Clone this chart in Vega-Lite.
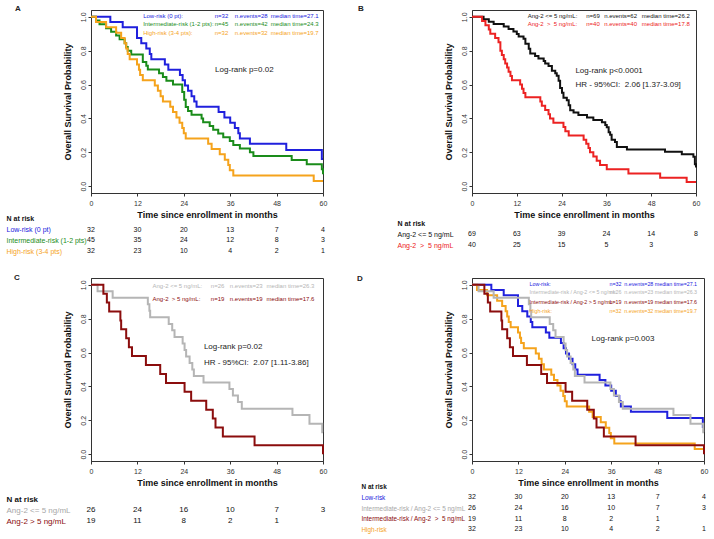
{
"$schema": "https://vega.github.io/schema/vega-lite/v6.json",
"padding": {"left": 6, "top": 4, "right": 5, "bottom": 5},
"background": "white",
"config": {"font": "Liberation Sans", "view": {"stroke": null}, "axis": {"grid": false, "labelOverlap": false, "labelBound": false}},
"resolve": {"scale": {"color": "independent"}},
"datasets": {
"curves": [
{"c":"low","t":0,"s":1},{"c":"low","t":5.0,"s":0.969},{"c":"low","t":8.2,"s":0.938},{"c":"low","t":11.9,"s":0.875},{"c":"low","t":13.0,"s":0.844},{"c":"low","t":14.3,"s":0.813},{"c":"low","t":15.2,"s":0.781},{"c":"low","t":15.6,"s":0.75},{"c":"low","t":19.1,"s":0.719},{"c":"low","t":20.0,"s":0.688},{"c":"low","t":23.0,"s":0.656},{"c":"low","t":23.7,"s":0.625},{"c":"low","t":24.3,"s":0.594},{"c":"low","t":25.1,"s":0.563},{"c":"low","t":26.0,"s":0.531},{"c":"low","t":26.7,"s":0.5},{"c":"low","t":27.3,"s":0.469},{"c":"low","t":33.0,"s":0.438},{"c":"low","t":34.5,"s":0.406},{"c":"low","t":36.0,"s":0.375},{"c":"low","t":37.2,"s":0.344},{"c":"low","t":38.1,"s":0.313},{"c":"low","t":38.5,"s":0.281},{"c":"low","t":41.1,"s":0.25},{"c":"low","t":50.5,"s":0.214},{"c":"low","t":59.7,"s":0.16},{"c":"low","t":60,"s":0.16},
{"c":"int","t":0,"s":1},{"c":"int","t":1.3,"s":0.978},{"c":"int","t":2.2,"s":0.956},{"c":"int","t":3.9,"s":0.933},{"c":"int","t":5.2,"s":0.911},{"c":"int","t":6.5,"s":0.889},{"c":"int","t":7.4,"s":0.867},{"c":"int","t":8.7,"s":0.844},{"c":"int","t":9.1,"s":0.822},{"c":"int","t":9.5,"s":0.8},{"c":"int","t":10.4,"s":0.778},{"c":"int","t":13.4,"s":0.733},{"c":"int","t":14.3,"s":0.711},{"c":"int","t":14.7,"s":0.689},{"c":"int","t":17.6,"s":0.667},{"c":"int","t":18.6,"s":0.644},{"c":"int","t":19.5,"s":0.622},{"c":"int","t":21.2,"s":0.6},{"c":"int","t":23.6,"s":0.556},{"c":"int","t":24.1,"s":0.511},{"c":"int","t":24.5,"s":0.467},{"c":"int","t":25.1,"s":0.444},{"c":"int","t":26.0,"s":0.422},{"c":"int","t":28.6,"s":0.4},{"c":"int","t":29.0,"s":0.378},{"c":"int","t":30.7,"s":0.356},{"c":"int","t":31.6,"s":0.333},{"c":"int","t":32.9,"s":0.311},{"c":"int","t":34.2,"s":0.289},{"c":"int","t":35.9,"s":0.267},{"c":"int","t":36.8,"s":0.244},{"c":"int","t":38.5,"s":0.222},{"c":"int","t":41.1,"s":0.2},{"c":"int","t":42.0,"s":0.178},{"c":"int","t":51.9,"s":0.155},{"c":"int","t":55.8,"s":0.13},{"c":"int","t":59.7,"s":0.1},{"c":"int","t":60,"s":0.07},
{"c":"high","t":0,"s":1},{"c":"high","t":1.3,"s":0.969},{"c":"high","t":3.9,"s":0.938},{"c":"high","t":6.5,"s":0.906},{"c":"high","t":7.8,"s":0.875},{"c":"high","t":8.7,"s":0.844},{"c":"high","t":9.1,"s":0.813},{"c":"high","t":9.5,"s":0.781},{"c":"high","t":10.0,"s":0.75},{"c":"high","t":11.9,"s":0.719},{"c":"high","t":12.4,"s":0.688},{"c":"high","t":12.7,"s":0.656},{"c":"high","t":13.4,"s":0.625},{"c":"high","t":16.5,"s":0.594},{"c":"high","t":17.3,"s":0.563},{"c":"high","t":18.0,"s":0.531},{"c":"high","t":18.6,"s":0.5},{"c":"high","t":20.5,"s":0.469},{"c":"high","t":21.2,"s":0.438},{"c":"high","t":22.1,"s":0.406},{"c":"high","t":22.9,"s":0.375},{"c":"high","t":23.6,"s":0.344},{"c":"high","t":24.0,"s":0.313},{"c":"high","t":24.5,"s":0.281},{"c":"high","t":30.3,"s":0.25},{"c":"high","t":31.2,"s":0.219},{"c":"high","t":33.3,"s":0.188},{"c":"high","t":34.6,"s":0.156},{"c":"high","t":35.5,"s":0.125},{"c":"high","t":35.9,"s":0.094},{"c":"high","t":36.8,"s":0.063},{"c":"high","t":57.6,"s":0.031},{"c":"high","t":60,"s":0.031},
{"c":"le5","t":0,"s":1},{"c":"le5","t":3.1,"s":0.986},{"c":"le5","t":4.5,"s":0.971},{"c":"le5","t":5.8,"s":0.957},{"c":"le5","t":8.5,"s":0.942},{"c":"le5","t":9.8,"s":0.928},{"c":"le5","t":11.1,"s":0.913},{"c":"le5","t":12.0,"s":0.899},{"c":"le5","t":12.5,"s":0.884},{"c":"le5","t":13.8,"s":0.87},{"c":"le5","t":14.3,"s":0.841},{"c":"le5","t":15.2,"s":0.812},{"c":"le5","t":15.6,"s":0.783},{"c":"le5","t":16.9,"s":0.768},{"c":"le5","t":17.8,"s":0.754},{"c":"le5","t":19.2,"s":0.739},{"c":"le5","t":19.6,"s":0.725},{"c":"le5","t":20.5,"s":0.71},{"c":"le5","t":21.4,"s":0.681},{"c":"le5","t":22.3,"s":0.667},{"c":"le5","t":22.7,"s":0.652},{"c":"le5","t":23.2,"s":0.623},{"c":"le5","t":23.6,"s":0.58},{"c":"le5","t":24.1,"s":0.551},{"c":"le5","t":24.5,"s":0.522},{"c":"le5","t":25.4,"s":0.507},{"c":"le5","t":25.9,"s":0.478},{"c":"le5","t":26.3,"s":0.449},{"c":"le5","t":27.2,"s":0.435},{"c":"le5","t":28.5,"s":0.42},{"c":"le5","t":30.8,"s":0.406},{"c":"le5","t":32.5,"s":0.391},{"c":"le5","t":34.8,"s":0.377},{"c":"le5","t":35.7,"s":0.362},{"c":"le5","t":36.1,"s":0.348},{"c":"le5","t":36.6,"s":0.319},{"c":"le5","t":37.0,"s":0.304},{"c":"le5","t":37.4,"s":0.275},{"c":"le5","t":38.3,"s":0.261},{"c":"le5","t":38.8,"s":0.232},{"c":"le5","t":41.5,"s":0.217},{"c":"le5","t":51.7,"s":0.203},{"c":"le5","t":56.2,"s":0.188},{"c":"le5","t":59.3,"s":0.174},{"c":"le5","t":59.7,"s":0.13},{"c":"le5","t":60,"s":0.11},
{"c":"gt5","t":0,"s":1},{"c":"gt5","t":2.7,"s":0.975},{"c":"gt5","t":3.6,"s":0.95},{"c":"gt5","t":4.5,"s":0.925},{"c":"gt5","t":4.9,"s":0.9},{"c":"gt5","t":6.2,"s":0.875},{"c":"gt5","t":7.1,"s":0.85},{"c":"gt5","t":7.6,"s":0.8},{"c":"gt5","t":8.0,"s":0.775},{"c":"gt5","t":8.5,"s":0.75},{"c":"gt5","t":8.9,"s":0.725},{"c":"gt5","t":9.4,"s":0.7},{"c":"gt5","t":9.8,"s":0.675},{"c":"gt5","t":10.3,"s":0.65},{"c":"gt5","t":10.7,"s":0.625},{"c":"gt5","t":12.9,"s":0.6},{"c":"gt5","t":13.4,"s":0.575},{"c":"gt5","t":13.8,"s":0.55},{"c":"gt5","t":14.3,"s":0.525},{"c":"gt5","t":18.3,"s":0.5},{"c":"gt5","t":18.7,"s":0.475},{"c":"gt5","t":19.6,"s":0.45},{"c":"gt5","t":20.5,"s":0.425},{"c":"gt5","t":20.9,"s":0.4},{"c":"gt5","t":21.8,"s":0.375},{"c":"gt5","t":24.5,"s":0.35},{"c":"gt5","t":25.0,"s":0.325},{"c":"gt5","t":25.9,"s":0.3},{"c":"gt5","t":29.9,"s":0.275},{"c":"gt5","t":30.6,"s":0.25},{"c":"gt5","t":31.2,"s":0.225},{"c":"gt5","t":31.6,"s":0.2},{"c":"gt5","t":32.5,"s":0.175},{"c":"gt5","t":33.4,"s":0.15},{"c":"gt5","t":34.3,"s":0.125},{"c":"gt5","t":36.1,"s":0.1},{"c":"gt5","t":41.9,"s":0.075},{"c":"gt5","t":50.4,"s":0.05},{"c":"gt5","t":57.5,"s":0.025},{"c":"gt5","t":60,"s":0.025},
{"c":"ile5","t":0,"s":1},{"c":"ile5","t":1.7,"s":0.962},{"c":"ile5","t":5.6,"s":0.923},{"c":"ile5","t":14.7,"s":0.885},{"c":"ile5","t":15.1,"s":0.846},{"c":"ile5","t":15.3,"s":0.808},{"c":"ile5","t":20.1,"s":0.769},{"c":"ile5","t":21.0,"s":0.731},{"c":"ile5","t":21.6,"s":0.692},{"c":"ile5","t":23.7,"s":0.654},{"c":"ile5","t":24.2,"s":0.615},{"c":"ile5","t":24.6,"s":0.577},{"c":"ile5","t":25.5,"s":0.538},{"c":"ile5","t":26.2,"s":0.5},{"c":"ile5","t":26.6,"s":0.462},{"c":"ile5","t":29.1,"s":0.423},{"c":"ile5","t":35.8,"s":0.385},{"c":"ile5","t":36.7,"s":0.346},{"c":"ile5","t":38.0,"s":0.308},{"c":"ile5","t":39.0,"s":0.269},{"c":"ile5","t":52.1,"s":0.231},{"c":"ile5","t":56.5,"s":0.18},{"c":"ile5","t":59.8,"s":0.13},{"c":"ile5","t":60,"s":0.13},
{"c":"igt5","t":0,"s":1},{"c":"igt5","t":3.2,"s":0.947},{"c":"igt5","t":4.1,"s":0.895},{"c":"igt5","t":4.7,"s":0.842},{"c":"igt5","t":7.6,"s":0.789},{"c":"igt5","t":7.8,"s":0.737},{"c":"igt5","t":9.1,"s":0.684},{"c":"igt5","t":9.8,"s":0.632},{"c":"igt5","t":10.6,"s":0.579},{"c":"igt5","t":14.2,"s":0.526},{"c":"igt5","t":17.9,"s":0.474},{"c":"igt5","t":19.4,"s":0.421},{"c":"igt5","t":24.2,"s":0.368},{"c":"igt5","t":25.9,"s":0.316},{"c":"igt5","t":29.8,"s":0.263},{"c":"igt5","t":31.5,"s":0.211},{"c":"igt5","t":32.2,"s":0.158},{"c":"igt5","t":34.1,"s":0.105},{"c":"igt5","t":42.3,"s":0.053},{"c":"igt5","t":60,"s":0.0}
],
"risk": [
{"p":"A","g":"Low-risk (0 pt)","t":0,"n":32},{"p":"A","g":"Low-risk (0 pt)","t":12,"n":30},{"p":"A","g":"Low-risk (0 pt)","t":24,"n":20},{"p":"A","g":"Low-risk (0 pt)","t":36,"n":13},{"p":"A","g":"Low-risk (0 pt)","t":48,"n":7},{"p":"A","g":"Low-risk (0 pt)","t":60,"n":4},
{"p":"A","g":"Intermediate-risk (1-2 pts)","t":0,"n":45},{"p":"A","g":"Intermediate-risk (1-2 pts)","t":12,"n":35},{"p":"A","g":"Intermediate-risk (1-2 pts)","t":24,"n":24},{"p":"A","g":"Intermediate-risk (1-2 pts)","t":36,"n":12},{"p":"A","g":"Intermediate-risk (1-2 pts)","t":48,"n":8},{"p":"A","g":"Intermediate-risk (1-2 pts)","t":60,"n":3},
{"p":"A","g":"High-risk (3-4 pts)","t":0,"n":32},{"p":"A","g":"High-risk (3-4 pts)","t":12,"n":23},{"p":"A","g":"High-risk (3-4 pts)","t":24,"n":10},{"p":"A","g":"High-risk (3-4 pts)","t":36,"n":4},{"p":"A","g":"High-risk (3-4 pts)","t":48,"n":2},{"p":"A","g":"High-risk (3-4 pts)","t":60,"n":1},
{"p":"B","g":"Ang-2 <= 5 ng/mL","t":0,"n":69},{"p":"B","g":"Ang-2 <= 5 ng/mL","t":12,"n":63},{"p":"B","g":"Ang-2 <= 5 ng/mL","t":24,"n":39},{"p":"B","g":"Ang-2 <= 5 ng/mL","t":36,"n":24},{"p":"B","g":"Ang-2 <= 5 ng/mL","t":48,"n":14},{"p":"B","g":"Ang-2 <= 5 ng/mL","t":60,"n":8},
{"p":"B","g":"Ang-2\u00a0 >\u00a0 5 ng/mL","t":0,"n":40},{"p":"B","g":"Ang-2\u00a0 >\u00a0 5 ng/mL","t":12,"n":25},{"p":"B","g":"Ang-2\u00a0 >\u00a0 5 ng/mL","t":24,"n":15},{"p":"B","g":"Ang-2\u00a0 >\u00a0 5 ng/mL","t":36,"n":5},{"p":"B","g":"Ang-2\u00a0 >\u00a0 5 ng/mL","t":48,"n":3},
{"p":"C","g":"Ang-2 <= 5 ng/mL","t":0,"n":26},{"p":"C","g":"Ang-2 <= 5 ng/mL","t":12,"n":24},{"p":"C","g":"Ang-2 <= 5 ng/mL","t":24,"n":16},{"p":"C","g":"Ang-2 <= 5 ng/mL","t":36,"n":10},{"p":"C","g":"Ang-2 <= 5 ng/mL","t":48,"n":7},{"p":"C","g":"Ang-2 <= 5 ng/mL","t":60,"n":3},
{"p":"C","g":"Ang-2 > 5 ng/mL","t":0,"n":19},{"p":"C","g":"Ang-2 > 5 ng/mL","t":12,"n":11},{"p":"C","g":"Ang-2 > 5 ng/mL","t":24,"n":8},{"p":"C","g":"Ang-2 > 5 ng/mL","t":36,"n":2},{"p":"C","g":"Ang-2 > 5 ng/mL","t":48,"n":1},
{"p":"D","g":"Low-risk","t":0,"n":32},{"p":"D","g":"Low-risk","t":12,"n":30},{"p":"D","g":"Low-risk","t":24,"n":20},{"p":"D","g":"Low-risk","t":36,"n":13},{"p":"D","g":"Low-risk","t":48,"n":7},{"p":"D","g":"Low-risk","t":60,"n":4},
{"p":"D","g":"Intermediate-risk / Ang-2 <= 5 ng/mL","t":0,"n":26},{"p":"D","g":"Intermediate-risk / Ang-2 <= 5 ng/mL","t":12,"n":24},{"p":"D","g":"Intermediate-risk / Ang-2 <= 5 ng/mL","t":24,"n":16},{"p":"D","g":"Intermediate-risk / Ang-2 <= 5 ng/mL","t":36,"n":10},{"p":"D","g":"Intermediate-risk / Ang-2 <= 5 ng/mL","t":48,"n":7},{"p":"D","g":"Intermediate-risk / Ang-2 <= 5 ng/mL","t":60,"n":3},
{"p":"D","g":"Intermediate-risk / Ang-2\u00a0 >\u00a0 5 ng/mL","t":0,"n":19},{"p":"D","g":"Intermediate-risk / Ang-2\u00a0 >\u00a0 5 ng/mL","t":12,"n":11},{"p":"D","g":"Intermediate-risk / Ang-2\u00a0 >\u00a0 5 ng/mL","t":24,"n":8},{"p":"D","g":"Intermediate-risk / Ang-2\u00a0 >\u00a0 5 ng/mL","t":36,"n":2},{"p":"D","g":"Intermediate-risk / Ang-2\u00a0 >\u00a0 5 ng/mL","t":48,"n":1},
{"p":"D","g":"High-risk","t":0,"n":32},{"p":"D","g":"High-risk","t":12,"n":23},{"p":"D","g":"High-risk","t":24,"n":10},{"p":"D","g":"High-risk","t":36,"n":4},{"p":"D","g":"High-risk","t":48,"n":2},{"p":"D","g":"High-risk","t":60,"n":1}
]
},
"columns": 2,
"spacing": {"row": 21, "column": 149},
"bounds": "flush",
"align": "none",
"concat": [
{
 "width": 232, "height": 183,
 "view": {"stroke": "#333"},
 "title": {"text": "A", "anchor": "start", "frame": "group", "dx": -76, "offset": -3, "fontSize": 8, "fontWeight": "bold", "color": "#222"},
 "layer": [
  {"data": {"name": "curves"}, "transform": [{"filter": {"field": "c", "oneOf": ["low","int","high"]}}],
   "mark": {"type": "line", "interpolate": "step-after", "strokeWidth": 2},
   "encoding": {
    "x": {"field": "t", "type": "quantitative", "scale": {"domain": [0,60], "nice": false, "zero": false},
          "axis": {"values": [0,12,24,36,48,60], "tickCount": 12, "title": "Time since enrollment in months", "titleFontSize": 9, "titleFontWeight": "bold", "titleColor": "#111", "titlePadding": 4, "labelFontSize": 7, "labelColor": "#333", "labelPadding": 3, "labelFlush": false, "labelOverlap": false, "tickSize": 3, "tickColor": "#333", "domainColor": "#333", "grid": false}},
    "y": {"field": "s", "type": "quantitative", "scale": {"domain": [-0.04,1.04], "nice": false, "zero": false},
          "axis": {"values": [0,0.2,0.4,0.6,0.8,1], "tickCount": 12, "format": ".1f", "title": "Overall Survival Probability", "titleFontSize": 9, "titleFontWeight": "bold", "titleColor": "#111", "titlePadding": 7, "labelAngle": -90, "labelAlign": "center", "labelBaseline": "bottom", "labelFontSize": 7, "labelColor": "#333", "labelPadding": 2, "labelFlush": false, "labelOverlap": false, "tickSize": 3, "tickColor": "#333", "domainColor": "#333", "grid": false}},
    "color": {"field": "c", "type": "nominal", "scale": {"domain": ["low","int","high"], "range": ["#2020dd","#1a8c1a","#f5a31c"]}, "legend": null}
   }},
  {"data": {"values": [{"txt": "Log-rank p=0.02"}]},
   "mark": {"type": "text", "align": "left", "baseline": "middle", "fontSize": 8, "color": "#222"},
   "encoding": {"x": {"datum": 32.1}, "y": {"datum": 0.686}, "text": {"field": "txt"}}},
  {"data": {"values": [
    {"c": "low", "label": "Low-risk (0 pt):", "n": "n=32", "ev": "n.events=28", "med": "median time=27.1"},
    {"c": "int", "label": "Intermediate-risk (1-2 pts):", "n": "n=45", "ev": "n.events=42", "med": "median time=24.3"},
    {"c": "high", "label": "High-risk (3-4 pts):", "n": "n=32", "ev": "n.events=32", "med": "median time=19.7"}]},
   "encoding": {"color": {"field": "c", "type": "nominal", "legend": null}},
   "layer": [
    {"transform": [{"filter": "datum.c === 'low'"}], "encoding": {"y": {"datum": 1.0064}}, "layer": [
     {"mark": {"type": "text", "align": "left", "baseline": "middle", "fontSize": 6}, "encoding": {"x": {"datum": 13.5}, "text": {"field": "label"}}},
     {"mark": {"type": "text", "align": "left", "baseline": "middle", "fontSize": 6}, "encoding": {"x": {"datum": 32.0}, "text": {"field": "n"}}},
     {"mark": {"type": "text", "align": "left", "baseline": "middle", "fontSize": 6}, "encoding": {"x": {"datum": 37.2}, "text": {"field": "ev"}}},
     {"mark": {"type": "text", "align": "left", "baseline": "middle", "fontSize": 6}, "encoding": {"x": {"datum": 46.5}, "text": {"field": "med"}}}]},
    {"transform": [{"filter": "datum.c === 'int'"}], "encoding": {"y": {"datum": 0.9574}}, "layer": [
     {"mark": {"type": "text", "align": "left", "baseline": "middle", "fontSize": 6}, "encoding": {"x": {"datum": 13.5}, "text": {"field": "label"}}},
     {"mark": {"type": "text", "align": "left", "baseline": "middle", "fontSize": 6}, "encoding": {"x": {"datum": 32.0}, "text": {"field": "n"}}},
     {"mark": {"type": "text", "align": "left", "baseline": "middle", "fontSize": 6}, "encoding": {"x": {"datum": 37.2}, "text": {"field": "ev"}}},
     {"mark": {"type": "text", "align": "left", "baseline": "middle", "fontSize": 6}, "encoding": {"x": {"datum": 46.5}, "text": {"field": "med"}}}]},
    {"transform": [{"filter": "datum.c === 'high'"}], "encoding": {"y": {"datum": 0.906}}, "layer": [
     {"mark": {"type": "text", "align": "left", "baseline": "middle", "fontSize": 6}, "encoding": {"x": {"datum": 13.5}, "text": {"field": "label"}}},
     {"mark": {"type": "text", "align": "left", "baseline": "middle", "fontSize": 6}, "encoding": {"x": {"datum": 32.0}, "text": {"field": "n"}}},
     {"mark": {"type": "text", "align": "left", "baseline": "middle", "fontSize": 6}, "encoding": {"x": {"datum": 37.2}, "text": {"field": "ev"}}},
     {"mark": {"type": "text", "align": "left", "baseline": "middle", "fontSize": 6}, "encoding": {"x": {"datum": 46.5}, "text": {"field": "med"}}}]}
   ]}
 ]
},
{
 "width": 224, "height": 183,
 "view": {"stroke": "#333"},
 "title": {"text": "B", "anchor": "start", "frame": "group", "dx": -114, "offset": -3, "fontSize": 8, "fontWeight": "bold", "color": "#222"},
 "layer": [
  {"data": {"name": "curves"}, "transform": [{"filter": {"field": "c", "oneOf": ["le5","gt5"]}}],
   "mark": {"type": "line", "interpolate": "step-after", "strokeWidth": 2},
   "encoding": {
    "x": {"field": "t", "type": "quantitative", "scale": {"domain": [0,60], "nice": false, "zero": false},
          "axis": {"values": [0,12,24,36,48,60], "tickCount": 12, "title": "Time since enrollment in months", "titleFontSize": 9, "titleFontWeight": "bold", "titleColor": "#111", "titlePadding": 4, "labelFontSize": 7, "labelColor": "#333", "labelPadding": 3, "labelFlush": false, "labelOverlap": false, "tickSize": 3, "tickColor": "#333", "domainColor": "#333", "grid": false}},
    "y": {"field": "s", "type": "quantitative", "scale": {"domain": [-0.04,1.04], "nice": false, "zero": false},
          "axis": {"values": [0,0.2,0.4,0.6,0.8,1], "tickCount": 12, "format": ".1f", "title": "Overall Survival Probability", "titleFontSize": 9, "titleFontWeight": "bold", "titleColor": "#111", "titlePadding": 7, "labelAngle": -90, "labelAlign": "center", "labelBaseline": "bottom", "labelFontSize": 7, "labelColor": "#333", "labelPadding": 2, "labelFlush": false, "labelOverlap": false, "tickSize": 3, "tickColor": "#333", "domainColor": "#333", "grid": false}},
    "color": {"field": "c", "type": "nominal", "scale": {"domain": ["le5","gt5"], "range": ["#111111","#ec2222"]}, "legend": null}
   }},
  {"data": {"values": [{"txt": "Log-rank p<0.0001"}]},
   "mark": {"type": "text", "align": "left", "baseline": "middle", "fontSize": 8, "color": "#222"},
   "encoding": {"x": {"datum": 27.7}, "y": {"datum": 0.682}, "text": {"field": "txt"}}},
  {"data": {"values": [{"txt": "HR - 95%CI:\u00a0 2.06 [1.37-3.09]"}]},
   "mark": {"type": "text", "align": "left", "baseline": "middle", "fontSize": 8, "color": "#222"},
   "encoding": {"x": {"datum": 27.7}, "y": {"datum": 0.597}, "text": {"field": "txt"}}},
  {"data": {"values": [
    {"c": "le5", "label": "Ang-2 <= 5 ng/mL:", "n": "n=69", "ev": "n.events=62", "med": "median time=26.2"},
    {"c": "gt5", "label": "Ang-2\u00a0 >\u00a0 5 ng/mL:", "n": "n=40", "ev": "n.events=40", "med": "median time=17.8"}]},
   "encoding": {"color": {"field": "c", "type": "nominal", "legend": null}},
   "layer": [
    {"transform": [{"filter": "datum.c === 'le5'"}], "encoding": {"y": {"datum": 1.0046}}, "layer": [
     {"mark": {"type": "text", "align": "left", "baseline": "middle", "fontSize": 6}, "encoding": {"x": {"datum": 14.9}, "text": {"field": "label"}}},
     {"mark": {"type": "text", "align": "left", "baseline": "middle", "fontSize": 6}, "encoding": {"x": {"datum": 30.6}, "text": {"field": "n"}}},
     {"mark": {"type": "text", "align": "left", "baseline": "middle", "fontSize": 6}, "encoding": {"x": {"datum": 35.4}, "text": {"field": "ev"}}},
     {"mark": {"type": "text", "align": "left", "baseline": "middle", "fontSize": 6}, "encoding": {"x": {"datum": 45.5}, "text": {"field": "med"}}}]},
    {"transform": [{"filter": "datum.c === 'gt5'"}], "encoding": {"y": {"datum": 0.9574}}, "layer": [
     {"mark": {"type": "text", "align": "left", "baseline": "middle", "fontSize": 6}, "encoding": {"x": {"datum": 14.9}, "text": {"field": "label"}}},
     {"mark": {"type": "text", "align": "left", "baseline": "middle", "fontSize": 6}, "encoding": {"x": {"datum": 30.6}, "text": {"field": "n"}}},
     {"mark": {"type": "text", "align": "left", "baseline": "middle", "fontSize": 6}, "encoding": {"x": {"datum": 35.4}, "text": {"field": "ev"}}},
     {"mark": {"type": "text", "align": "left", "baseline": "middle", "fontSize": 6}, "encoding": {"x": {"datum": 45.5}, "text": {"field": "med"}}}]}
   ]}
 ]
},
{
 "width": 232, "height": 43,
 "data": {"name": "risk"},
 "transform": [{"filter": "datum.p === 'A'"}],
 "mark": {"type": "text", "fontSize": 7, "color": "#111", "baseline": "middle"},
 "encoding": {
  "x": {"field": "t", "type": "quantitative", "scale": {"domain": [0,60], "nice": false, "zero": false}, "axis": null},
  "y": {"field": "g", "type": "nominal", "scale": {"type": "point", "domain": ["N at risk","Low-risk (0 pt)","Intermediate-risk (1-2 pts)","High-risk (3-4 pts)"], "padding": 0.5, "align": 0.465},
        "axis": {"title": null, "domain": false, "ticks": false, "labelAlign": "left", "labelBaseline": "middle", "labelPadding": 85, "labelFontSize": 7, "labelLimit": 300,
                 "labelColor": {"condition": [{"test": "datum.value === 'Low-risk (0 pt)'", "value": "#2020dd"}, {"test": "datum.value === 'Intermediate-risk (1-2 pts)'", "value": "#1a8c1a"}, {"test": "datum.value === 'High-risk (3-4 pts)'", "value": "#f5a31c"}], "value": "#111"},
                 "labelFontWeight": {"condition": {"test": "datum.value === 'N at risk'", "value": "bold"}, "value": "normal"}}},
  "text": {"field": "n", "type": "quantitative"}
 }
},
{
 "width": 224, "height": 43,
 "data": {"name": "risk"},
 "transform": [{"filter": "datum.p === 'B'"}],
 "mark": {"type": "text", "fontSize": 7, "color": "#111", "baseline": "middle"},
 "encoding": {
  "x": {"field": "t", "type": "quantitative", "scale": {"domain": [0,60], "nice": false, "zero": false}, "axis": null},
  "y": {"field": "g", "type": "nominal", "scale": {"type": "point", "domain": ["N at risk","Ang-2 <= 5 ng/mL","Ang-2\u00a0 >\u00a0 5 ng/mL"], "padding": 0.955, "align": 0.43},
        "axis": {"title": null, "domain": false, "ticks": false, "labelAlign": "left", "labelBaseline": "middle", "labelPadding": 75, "labelFontSize": 7, "labelLimit": 300,
                 "labelColor": {"condition": [{"test": "datum.value === 'Ang-2\u00a0 >\u00a0 5 ng/mL'", "value": "#ec2222"}], "value": "#111"},
                 "labelFontWeight": {"condition": {"test": "datum.value === 'N at risk'", "value": "bold"}, "value": "normal"}}},
  "text": {"field": "n", "type": "quantitative"}
 }
},
{
 "width": 232, "height": 183,
 "view": {"stroke": "#333"},
 "title": {"text": "C", "anchor": "start", "frame": "group", "dx": -77, "offset": -4, "fontSize": 8, "fontWeight": "bold", "color": "#222"},
 "layer": [
  {"data": {"name": "curves"}, "transform": [{"filter": {"field": "c", "oneOf": ["ile5","igt5"]}}],
   "mark": {"type": "line", "interpolate": "step-after", "strokeWidth": 2},
   "encoding": {
    "x": {"field": "t", "type": "quantitative", "scale": {"domain": [0,60], "nice": false, "zero": false},
          "axis": {"values": [0,12,24,36,48,60], "tickCount": 12, "title": "Time since enrollment in months", "titleFontSize": 9, "titleFontWeight": "bold", "titleColor": "#111", "titlePadding": 4, "labelFontSize": 7, "labelColor": "#333", "labelPadding": 3, "labelFlush": false, "labelOverlap": false, "tickSize": 3, "tickColor": "#333", "domainColor": "#333", "grid": false}},
    "y": {"field": "s", "type": "quantitative", "scale": {"domain": [-0.04,1.04], "nice": false, "zero": false},
          "axis": {"values": [0,0.2,0.4,0.6,0.8,1], "tickCount": 12, "format": ".1f", "title": "Overall Survival Probability", "titleFontSize": 9, "titleFontWeight": "bold", "titleColor": "#111", "titlePadding": 7, "labelAngle": -90, "labelAlign": "center", "labelBaseline": "bottom", "labelFontSize": 7, "labelColor": "#333", "labelPadding": 2, "labelFlush": false, "labelOverlap": false, "tickSize": 3, "tickColor": "#333", "domainColor": "#333", "grid": false}},
    "color": {"field": "c", "type": "nominal", "scale": {"domain": ["ile5","igt5"], "range": ["#b5b5b5","#8b0d0d"]}, "legend": null}
   }},
  {"data": {"values": [{"txt": "Log-rank p=0.02"}]},
   "mark": {"type": "text", "align": "left", "baseline": "middle", "fontSize": 8, "color": "#222"},
   "encoding": {"x": {"datum": 29.2}, "y": {"datum": 0.631}, "text": {"field": "txt"}}},
  {"data": {"values": [{"txt": "HR - 95%CI:\u00a0 2.07 [1.11-3.86]"}]},
   "mark": {"type": "text", "align": "left", "baseline": "middle", "fontSize": 8, "color": "#222"},
   "encoding": {"x": {"datum": 29.2}, "y": {"datum": 0.54}, "text": {"field": "txt"}}},
  {"data": {"values": [
    {"c": "ile5", "label": "Ang-2 <= 5 ng/mL:", "n": "n=26", "ev": "n.events=23", "med": "median time=26.3"},
    {"c": "igt5", "label": "Ang-2\u00a0 >\u00a05 ng/mL:", "n": "n=19", "ev": "n.events=19", "med": "median time=17.6"}]},
   "encoding": {"color": {"field": "c", "type": "nominal", "legend": null}},
   "layer": [
    {"transform": [{"filter": "datum.c === 'ile5'"}], "encoding": {"y": {"datum": 0.9928}}, "layer": [
     {"mark": {"type": "text", "align": "left", "baseline": "middle", "fontSize": 6}, "encoding": {"x": {"datum": 15.9}, "text": {"field": "label"}}},
     {"mark": {"type": "text", "align": "left", "baseline": "middle", "fontSize": 6}, "encoding": {"x": {"datum": 31.0}, "text": {"field": "n"}}},
     {"mark": {"type": "text", "align": "left", "baseline": "middle", "fontSize": 6}, "encoding": {"x": {"datum": 35.9}, "text": {"field": "ev"}}},
     {"mark": {"type": "text", "align": "left", "baseline": "middle", "fontSize": 6}, "encoding": {"x": {"datum": 45.4}, "text": {"field": "med"}}}]},
    {"transform": [{"filter": "datum.c === 'igt5'"}], "encoding": {"y": {"datum": 0.916}}, "layer": [
     {"mark": {"type": "text", "align": "left", "baseline": "middle", "fontSize": 6}, "encoding": {"x": {"datum": 15.9}, "text": {"field": "label"}}},
     {"mark": {"type": "text", "align": "left", "baseline": "middle", "fontSize": 6}, "encoding": {"x": {"datum": 31.0}, "text": {"field": "n"}}},
     {"mark": {"type": "text", "align": "left", "baseline": "middle", "fontSize": 6}, "encoding": {"x": {"datum": 35.9}, "text": {"field": "ev"}}},
     {"mark": {"type": "text", "align": "left", "baseline": "middle", "fontSize": 6}, "encoding": {"x": {"datum": 45.4}, "text": {"field": "med"}}}]}
   ]}
 ]
},
{
 "width": 232, "height": 183,
 "view": {"stroke": "#333"},
 "title": {"text": "D", "anchor": "start", "frame": "group", "dx": -115, "offset": -5, "fontSize": 8, "fontWeight": "bold", "color": "#222"},
 "layer": [
  {"data": {"name": "curves"}, "transform": [{"filter": {"field": "c", "oneOf": ["low","ile5","igt5","high"]}}],
   "mark": {"type": "line", "interpolate": "step-after", "strokeWidth": 2},
   "encoding": {
    "x": {"field": "t", "type": "quantitative", "scale": {"domain": [0,60], "nice": false, "zero": false},
          "axis": {"values": [0,12,24,36,48,60], "tickCount": 12, "title": "Time since enrollment in months", "titleFontSize": 9, "titleFontWeight": "bold", "titleColor": "#111", "titlePadding": 4, "labelFontSize": 7, "labelColor": "#333", "labelPadding": 3, "labelFlush": false, "labelOverlap": false, "tickSize": 3, "tickColor": "#333", "domainColor": "#333", "grid": false}},
    "y": {"field": "s", "type": "quantitative", "scale": {"domain": [-0.04,1.04], "nice": false, "zero": false},
          "axis": {"values": [0,0.2,0.4,0.6,0.8,1], "tickCount": 12, "format": ".1f", "title": "Overall Survival Probability", "titleFontSize": 9, "titleFontWeight": "bold", "titleColor": "#111", "titlePadding": 7, "labelAngle": -90, "labelAlign": "center", "labelBaseline": "bottom", "labelFontSize": 7, "labelColor": "#333", "labelPadding": 2, "labelFlush": false, "labelOverlap": false, "tickSize": 3, "tickColor": "#333", "domainColor": "#333", "grid": false}},
    "color": {"field": "c", "type": "nominal", "scale": {"domain": ["low","ile5","igt5","high"], "range": ["#2020dd","#b5b5b5","#8b0d0d","#f5a31c"]}, "legend": null}
   }},
  {"data": {"values": [{"txt": "Log-rank p=0.003"}]},
   "mark": {"type": "text", "align": "left", "baseline": "middle", "fontSize": 8, "color": "#222"},
   "encoding": {"x": {"datum": 30.9}, "y": {"datum": 0.68}, "text": {"field": "txt"}}},
  {"data": {"values": [
    {"c": "low", "label": "Low-risk:", "st": "n=32\u00a0 n.events=28 median time=27.1"},
    {"c": "ile5", "label": "Intermediate-risk / Ang-2 <= 5 ng/mL:", "st": "n=26\u00a0 n.events=23 median time=26.3"},
    {"c": "igt5", "label": "Intermediate-risk / Ang-2 > 5 ng/mL:", "st": "n=19\u00a0 n.events=19 median time=17.6"},
    {"c": "high", "label": "High-risk:", "st": "n=32\u00a0 n.events=32 median time=19.7"}]},
   "encoding": {"color": {"field": "c", "type": "nominal", "legend": null}},
   "layer": [
    {"transform": [{"filter": "datum.c === 'low'"}], "encoding": {"y": {"datum": 1.0046}}, "layer": [
     {"mark": {"type": "text", "align": "left", "baseline": "middle", "fontSize": 5.3}, "encoding": {"x": {"datum": 14.9}, "text": {"field": "label"}}},
     {"mark": {"type": "text", "align": "right", "baseline": "middle", "fontSize": 5.3}, "encoding": {"x": {"datum": 58.2}, "text": {"field": "st"}}}]},
    {"transform": [{"filter": "datum.c === 'ile5'"}], "encoding": {"y": {"datum": 0.9591}}, "layer": [
     {"mark": {"type": "text", "align": "left", "baseline": "middle", "fontSize": 5.3}, "encoding": {"x": {"datum": 14.9}, "text": {"field": "label"}}},
     {"mark": {"type": "text", "align": "right", "baseline": "middle", "fontSize": 5.3}, "encoding": {"x": {"datum": 58.2}, "text": {"field": "st"}}}]},
    {"transform": [{"filter": "datum.c === 'igt5'"}], "encoding": {"y": {"datum": 0.9001}}, "layer": [
     {"mark": {"type": "text", "align": "left", "baseline": "middle", "fontSize": 5.3}, "encoding": {"x": {"datum": 14.9}, "text": {"field": "label"}}},
     {"mark": {"type": "text", "align": "right", "baseline": "middle", "fontSize": 5.3}, "encoding": {"x": {"datum": 58.2}, "text": {"field": "st"}}}]},
    {"transform": [{"filter": "datum.c === 'high'"}], "encoding": {"y": {"datum": 0.847}}, "layer": [
     {"mark": {"type": "text", "align": "left", "baseline": "middle", "fontSize": 5.3}, "encoding": {"x": {"datum": 14.9}, "text": {"field": "label"}}},
     {"mark": {"type": "text", "align": "right", "baseline": "middle", "fontSize": 5.3}, "encoding": {"x": {"datum": 58.2}, "text": {"field": "st"}}}]}
   ]}
 ]
},
{
 "width": 232, "height": 43,
 "data": {"name": "risk"},
 "transform": [{"filter": "datum.p === 'C'"}],
 "mark": {"type": "text", "fontSize": 8, "color": "#111", "baseline": "middle"},
 "encoding": {
  "x": {"field": "t", "type": "quantitative", "scale": {"domain": [0,60], "nice": false, "zero": false}, "axis": null},
  "y": {"field": "g", "type": "nominal", "scale": {"type": "point", "domain": ["N at risk","Ang-2 <= 5 ng/mL","Ang-2 > 5 ng/mL"], "padding": 0.955, "align": 0.81},
        "axis": {"title": null, "domain": false, "ticks": false, "labelAlign": "left", "labelBaseline": "middle", "labelPadding": 85, "labelFontSize": 8, "labelLimit": 300,
                 "labelColor": {"condition": [{"test": "datum.value === 'Ang-2 <= 5 ng/mL'", "value": "#a8a8a8"}, {"test": "datum.value === 'Ang-2 > 5 ng/mL'", "value": "#8b0d0d"}], "value": "#111"},
                 "labelFontWeight": {"condition": {"test": "datum.value === 'N at risk'", "value": "bold"}, "value": "normal"}}},
  "text": {"field": "n", "type": "quantitative"}
 }
},
{
 "width": 232, "height": 52,
 "data": {"name": "risk"},
 "transform": [{"filter": "datum.p === 'D'"}],
 "mark": {"type": "text", "fontSize": 7, "color": "#111", "baseline": "middle"},
 "encoding": {
  "x": {"field": "t", "type": "quantitative", "scale": {"domain": [0,60], "nice": false, "zero": false}, "axis": null},
  "y": {"field": "g", "type": "nominal", "scale": {"type": "point", "domain": ["N at risk","Low-risk","Intermediate-risk / Ang-2 <= 5 ng/mL","Intermediate-risk / Ang-2\u00a0 >\u00a0 5 ng/mL","High-risk"], "padding": 0.476, "align": 0.5},
        "axis": {"title": null, "domain": false, "ticks": false, "labelAlign": "left", "labelBaseline": "middle", "labelPadding": 111, "labelFontSize": 6.4, "labelLimit": 300,
                 "labelColor": {"condition": [{"test": "datum.value === 'Low-risk'", "value": "#2020dd"}, {"test": "datum.value === 'Intermediate-risk / Ang-2 <= 5 ng/mL'", "value": "#a8a8a8"}, {"test": "datum.value === 'Intermediate-risk / Ang-2\u00a0 >\u00a0 5 ng/mL'", "value": "#8b0d0d"}, {"test": "datum.value === 'High-risk'", "value": "#f5a31c"}], "value": "#111"},
                 "labelFontWeight": {"condition": {"test": "datum.value === 'N at risk'", "value": "bold"}, "value": "normal"}}},
  "text": {"field": "n", "type": "quantitative"}
 }
}
]
}
